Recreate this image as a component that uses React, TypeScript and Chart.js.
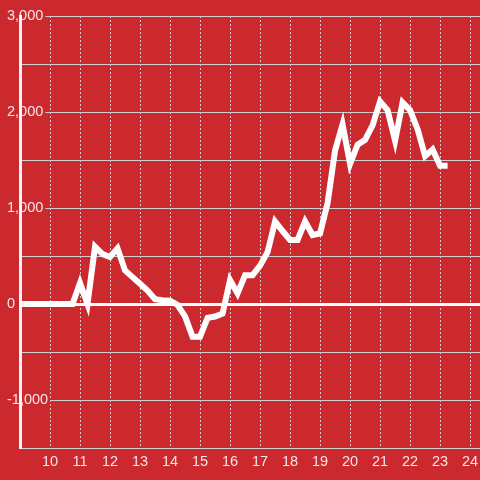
import React, { useEffect, useRef } from "react";
import { Chart, registerables } from "chart.js";

Chart.register(...registerables);

// Hour of day (quarter-hour samples)
const hours: number[] = [
  9, 9.25, 9.5, 9.75, 10, 10.25, 10.5, 10.75,
  11, 11.25, 11.5, 11.75, 12, 12.25, 12.5, 12.75,
  13, 13.25, 13.5, 13.75, 14, 14.25, 14.5, 14.75,
  15, 15.25, 15.5, 15.75, 16, 16.25, 16.5, 16.75,
  17, 17.25, 17.5, 17.75, 18, 18.25, 18.5, 18.75,
  19, 19.25, 19.5, 19.75, 20, 20.25, 20.5, 20.75,
  21, 21.25, 21.5, 21.75, 22, 22.25, 22.5, 22.75,
  23, 23.25,
];

const values: number[] = [
  0, 0, 0, 0, 0, 0, 0, 0,
  220, 0, 597, 520, 490, 580, 350, 280,
  210, 140, 50, 40, 35, -10, -130, -340,
  -340, -145, -130, -100, 250, 110, 300, 300,
  400, 540, 860, 760, 667, 667, 860, 719,
  736, 1050, 1600, 1870, 1460, 1660, 1710, 1860,
  2110, 2020, 1700, 2100, 2020, 1820, 1540, 1610,
  1440, 1440,
];

const xMin = 9;
const xMax = 24.33;
const yMin = -1500;
const yMax = 3000;
const yStep = 500;

const BG = "#cc292e";
const TEXT = "#f3e6e6";
const GRID = "#cfcfcf";
const FONT = "'Liberation Sans', Arial, sans-serif";

export default function App() {
  const ref = useRef<HTMLCanvasElement | null>(null);

  useEffect(() => {
    if (!ref.current) return;
    const chart = new Chart(ref.current, {
      type: "line",
      data: {
        datasets: [
          {
            data: hours.map((h, i) => ({ x: h, y: values[i] })),
            borderColor: "#ffffff",
            borderWidth: 6,
            pointRadius: 0,
            tension: 0,
            fill: false,
            yAxisID: "y",
          },
        ],
      },
      options: {
        responsive: false,
        animation: false,
        layout: { padding: { left: 0, top: 16, right: 0, bottom: 0 } },
        plugins: {
          legend: { display: false },
          tooltip: { enabled: false },
        },
        scales: {
          x: {
            type: "linear",
            bounds: "data",
            min: xMin,
            max: xMax,
            afterBuildTicks: (scale: any) => {
              scale.ticks = scale.ticks.filter((t: any) => Number.isInteger(t.value));
            },
            afterFit: (scale: any) => {
              scale.height = 32;
              scale.paddingLeft = 0;
              scale.paddingRight = 0;
            },
            ticks: {
              stepSize: 1,
              includeBounds: false,
              autoSkip: false,
              maxRotation: 0,
              padding: 5,
              color: TEXT,
              font: { family: FONT, size: 14.5 },
              callback: (v: any) => (Number(v) === xMin ? "" : String(v)),
            },
            grid: {
              color: GRID,
              lineWidth: 1,
              drawTicks: false,
            },
            border: { display: false, dash: [2, 2] },
          },
          y: {
            type: "linear",
            position: "left",
            weight: 1,
            min: yMin,
            max: yMax,
            afterFit: (scale: any) => {
              scale.width = 20;
            },
            ticks: {
              stepSize: yStep,
              mirror: true,
              crossAlign: "near",
              padding: -13,
              color: TEXT,
              font: { family: FONT, size: 14.5 },
              showLabelBackdrop: true,
              backdropColor: BG,
              backdropPadding: { top: 0, bottom: 0, left: 0, right: 2 },
              callback: (v: any) =>
                Number(v) % 1000 === 0 ? Number(v).toLocaleString("en-US") : "",
            },
            grid: {
              color: (ctx: any) => (ctx.tick && ctx.tick.value === 0 ? "#ffffff" : GRID),
              lineWidth: (ctx: any) => (ctx.tick && ctx.tick.value === 0 ? 3 : 1),
              drawTicks: false,
            },
            border: { display: false },
          },
          y2: {
            type: "linear",
            position: "left",
            weight: 0,
            afterFit: (scale: any) => {
              scale.width = 0;
            },
            ticks: { display: false },
            grid: { display: true, drawOnChartArea: false, drawTicks: false, color: "rgba(0,0,0,0)" },
            border: { display: true, color: "#f4f4f4", width: 3 },
          },
        },
      },
    });
    return () => chart.destroy();
  }, []);

  return (
    <div
      style={{
        position: "fixed",
        left: 0,
        top: 0,
        width: 480,
        height: 480,
        background: BG,
      }}
    >
      <canvas ref={ref} width={480} height={480} style={{ display: "block" }} />
    </div>
  );
}
